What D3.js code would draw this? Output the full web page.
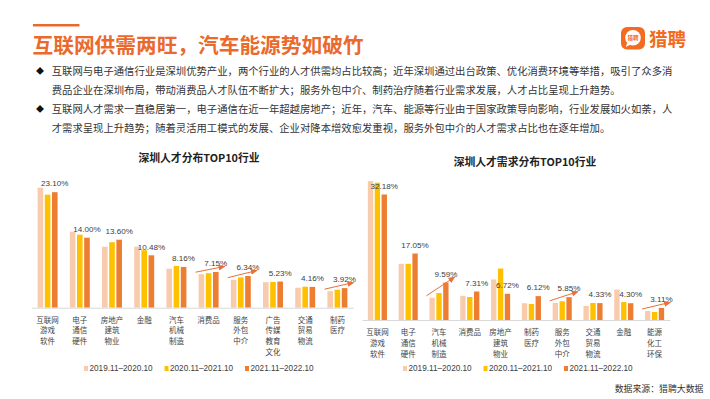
<!DOCTYPE html>
<html><head><meta charset="utf-8">
<script src="https://cdn.jsdelivr.net/npm/d3@7"></script>
<style>body{margin:0;background:#fff}svg{display:block}</style>
</head><body><svg id="c" width="710" height="399"></svg>
<script>
// ---------- data ----------
const seriesNames = ["2019.11–2020.10", "2020.11–2021.10", "2021.11–2022.10"];
const seriesColors = ["#F8CBAD", "#FFC000", "#ED7D31"];

const leftTitle = "深圳人才分布TOP10行业";
const leftCategories = ["互联网\n游戏\n软件", "电子\n通信\n硬件", "房地产\n建筑\n物业", "金融", "汽车\n机械\n制造",
  "消费品", "服务\n外包\n中介", "广告\n传媒\n教育\n文化", "交通\n贸易\n物流", "制药\n医疗"];
const leftS2019 = [24.0, 15.2, 12.2, 12.2, 7.8, 6.7, 5.6, 5.1, 4.0, 3.3];
const leftS2020 = [22.6, 14.6, 13.1, 11.5, 8.35, 6.9, 6.06, 5.15, 4.2, 3.6];
const leftS2021 = [23.10, 14.00, 13.60, 10.48, 8.16, 7.15, 6.34, 5.23, 4.16, 3.92];
const leftArrowIdx = [5, 6, 9];

const rightTitle = "深圳人才需求分布TOP10行业";
const rightCategories = ["互联网\n游戏\n软件", "电子\n通信\n硬件", "汽车\n机械\n制造", "消费品", "房地产\n建筑\n物业",
  "制药\n医疗", "服务\n外包\n中介", "交通\n贸易\n物流", "金融", "能源\n化工\n环保"];
const rightS2019 = [35.6, 14.4, 5.7, 6.2, 10.4, 4.3, 4.4, 3.6, 7.8, 2.3];
const rightS2020 = [35.2, 14.4, 6.9, 5.9, 13.2, 4.1, 4.8, 4.36, 4.6, 2.05];
const rightS2021 = [32.18, 17.05, 9.59, 7.31, 6.72, 6.12, 5.85, 4.33, 4.30, 3.11];
const rightArrowIdx = [2, 6, 9];

const headTitle = "互联网供需两旺，汽车能源势如破竹";
const bulletLines = [
  "互联网与电子通信行业是深圳优势产业，两个行业的人才供需均占比较高；近年深圳通过出台政策、优化消费环境等举措，吸引了众多消",
  "费品企业在深圳布局，带动消费品人才队伍不断扩大；服务外包中介、制药治疗随着行业需求发展，人才占比呈现上升趋势。",
  "互联网人才需求一直稳居第一，电子通信在近一年超越房地产；近年，汽车、能源等行业由于国家政策导向影响，行业发展如火如荼，人",
  "才需求呈现上升趋势；随着灵活用工模式的发展、企业对降本增效愈发重视，服务外包中介的人才需求占比也在逐年增加。"
];
const bulletFlags = [true, false, true, false];
const sourceText = "数据来源：猎聘大数据";

// ---------- drawing ----------
const FONT = "'Liberation Sans', Arial, 'Noto Sans CJK SC', sans-serif";
const CJK = "'Noto Sans CJK SC', 'Liberation Sans', sans-serif";
const ORANGE = "#EA6A2E";
const svg = d3.select("#c");
svg.append("rect").attr("width", 710).attr("height", 399).attr("fill", "#fff");

const defs = svg.append("defs");
defs.append("marker").attr("id", "ah").attr("markerUnits", "userSpaceOnUse")
  .attr("markerWidth", 7).attr("markerHeight", 6).attr("refX", 6).attr("refY", 3).attr("orient", "auto")
  .append("path").attr("d", "M0,0L7,3L0,6Z").attr("fill", "#E8703A");

// header
svg.append("rect").attr("x", 33).attr("y", 24).attr("width", 46.5).attr("height", 2.5).attr("fill", ORANGE);
svg.append("text").attr("x", 32.5).attr("y", 44.2).attr("dominant-baseline", "central")
  .attr("font-family", CJK).attr("font-weight", "bold").attr("font-size", 20.7).attr("fill", ORANGE)
  .text(headTitle);

// logo
svg.append("rect").attr("x", 621).attr("y", 27).attr("width", 24).attr("height", 22.5).attr("rx", 6).attr("fill", "#F26B21");
svg.append("circle").attr("cx", 633).attr("cy", 37.8).attr("r", 7.8).attr("fill", "#fff");
svg.append("path").attr("d", "M627,43 L626,47 L630.5,44.5Z").attr("fill", "#fff");
svg.append("text").attr("x", 633).attr("y", 38).attr("text-anchor", "middle").attr("dominant-baseline", "central")
  .attr("font-family", CJK).attr("font-size", 5.5).attr("font-weight", "bold").attr("fill", "#F26B21").text("猎聘");
svg.append("text").attr("x", 649).attr("y", 37.5).attr("dominant-baseline", "central")
  .attr("font-family", CJK).attr("font-weight", "bold").attr("font-size", 18.5).attr("fill", "#F26B21").text("猎聘");

// bullets
const lineY = [70.7, 89.7, 108.5, 127.3];
bulletLines.forEach((t, i) => {
  if (bulletFlags[i]) {
    svg.append("text").attr("x", 36).attr("y", lineY[i]).attr("dominant-baseline", "central")
      .attr("font-family", CJK).attr("font-size", 8).attr("fill", "#111").text("◆");
  }
  svg.append("text").attr("x", 51.7).attr("y", lineY[i]).attr("dominant-baseline", "central")
    .attr("font-family", CJK).attr("font-size", 10.35).attr("fill", "#333").text(t);
});

function drawChart(cfg) {
  const g = svg.append("g");
  const x = d3.scaleBand().domain(d3.range(cfg.cats.length)).range([cfg.x0, cfg.x1])
    .paddingInner(0.38).paddingOuter(0.19);
  const xi = d3.scaleBand().domain(d3.range(3)).range([0, x.bandwidth()]).paddingInner(0.22);
  const y = d3.scaleLinear().domain([0, 10]).range([cfg.base, cfg.base - 10 * cfg.pxPer]);

  // title
  g.append("text").attr("x", cfg.titleX).attr("y", cfg.titleY).attr("text-anchor", "middle")
    .attr("dominant-baseline", "central").attr("font-family", CJK).attr("font-weight", "bold")
    .attr("font-size", 10.8).attr("fill", "#222").text(cfg.title);

  // bars
  cfg.series.forEach((s, si) => {
    g.append("g").selectAll("rect").data(s).join("rect")
      .attr("x", (d, i) => x(i) + xi(si)).attr("width", xi.bandwidth())
      .attr("y", d => y(d)).attr("height", d => cfg.base - y(d))
      .attr("fill", seriesColors[si]);
  });

  // axis
  const ax = g.append("g").attr("transform", `translate(0,${cfg.base})`)
    .call(d3.axisBottom(x).tickSize(0).tickFormat(""));
  ax.select(".domain").attr("stroke", "#D9D9D9").attr("stroke-width", 1);
  ax.selectAll(".tick").each(function (d) {
    const lines = cfg.cats[d].split("\n");
    const t = d3.select(this).append("text").attr("fill", "#444").attr("font-family", CJK)
      .attr("font-size", 7.5).attr("text-anchor", "middle");
    lines.forEach((l, k) => t.append("tspan").attr("x", 0).attr("y", 11.5 + k * 10.8)
      .attr("dominant-baseline", "central").text(l));
  });

  // value labels (latest series)
  const last = cfg.series[2];
  g.append("g").selectAll("text").data(last).join("text")
    .attr("x", (d, i) => x(i) + xi(2) + xi.bandwidth() / 2)
    .attr("y", d => y(d) - 8.3).attr("dominant-baseline", "central")
    .attr("text-anchor", "middle").attr("font-family", FONT).attr("font-size", 8.1)
    .attr("fill", "#404040").text(d => d3.format(".2f")(d) + "%");

  // arrows
  cfg.arrows.forEach(i => {
    g.append("line")
      .attr("x1", x(i) + xi(0) - 3).attr("y1", y(cfg.series[0][i]) - 2)
      .attr("x2", x(i) + xi(2) + xi.bandwidth() + 6).attr("y2", y(cfg.series[2][i]) - 5.5)
      .attr("stroke", "#E8703A").attr("stroke-width", 1).attr("marker-end", "url(#ah)");
  });

  // legend
  seriesNames.forEach((n, si) => {
    const lx = cfg.legendX + si * 80.5;
    g.append("rect").attr("x", lx).attr("y", 366).attr("width", 4).attr("height", 5).attr("fill", seriesColors[si]);
    g.append("text").attr("x", lx + 5.5).attr("y", 368.5).attr("dominant-baseline", "central")
      .attr("font-family", FONT).attr("font-size", 8.2).attr("fill", "#404040").text(n);
  });
}

drawChart({
  cats: leftCategories, series: [leftS2019, leftS2020, leftS2021],
  x0: 31.5, x1: 353.5, base: 307.7, pxPer: 5.0,
  title: leftTitle, titleX: 199, titleY: 156.7, legendX: 84, arrows: leftArrowIdx
});
drawChart({
  cats: rightCategories, series: [rightS2019, rightS2020, rightS2021],
  x0: 362, x1: 670, base: 320, pxPer: 3.9,
  title: rightTitle, titleX: 525, titleY: 160.7, legendX: 403, arrows: rightArrowIdx
});

svg.append("text").attr("x", 703.5).attr("y", 388.3).attr("text-anchor", "end").attr("dominant-baseline", "central")
  .attr("font-family", CJK).attr("font-size", 8.9).attr("fill", "#333").text(sourceText);
</script></body></html>
